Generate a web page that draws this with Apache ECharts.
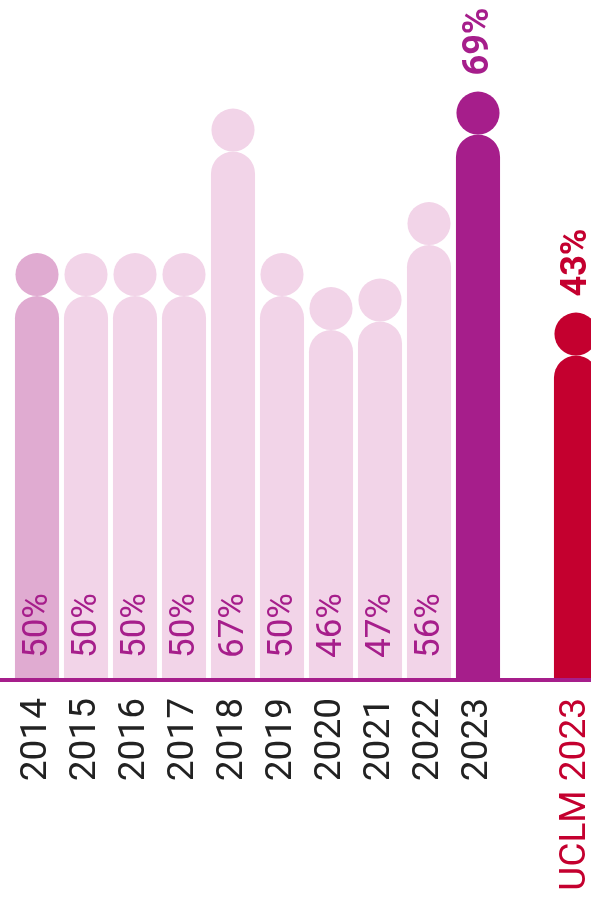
<!DOCTYPE html>
<html>
<head>
<meta charset="utf-8">
<script src="https://cdn.jsdelivr.net/npm/echarts@6/dist/echarts.min.js"></script>
<style>
  html, body { margin: 0; padding: 0; background: #fff; }
  #chart { width: 591px; height: 899px; }
</style>
</head>
<body>
<div id="chart"></div>
<script>
'use strict';

// categories (slot 10 is an empty gap before the UCLM bar)
var years = ['2014', '2015', '2016', '2017', '2018', '2019', '2020', '2021', '2022', '2023', '', 'UCLM 2023'];
// percentages
var values = [50, 50, 50, 50, 67, 50, 46, 47, 56, 69, null, 43];
var labels = ['50%', '50%', '50%', '50%', '67%', '50%', '46%', '47%', '56%', '69%', '', '43%'];

var PURPLE = '#a61e8b';
var RED = '#c4002f';
var LIGHT = '#f2d4e8';
var MID = '#e0abd1';
var FONT = 'Roboto, "Noto Sans", sans-serif';

function colorFor(i) {
    if (i === 0) return MID;
    if (i === 9) return PURPLE;
    if (i === 11) return RED;
    return LIGHT;
}

var seriesData = [];
values.forEach(function(v, i) {
    if (v != null) seriesData.push([i, v]);
});

function renderItem(params, api) {
    var idx = api.value(0);
    var val = api.value(1);
    var top = api.coord([idx, val]);
    var base = api.coord([idx, 0]);
    var w = api.size([1, 0])[0] * 0.9;
    var r = w / 2;
    var headR = r - 0.5;
    var cx = top[0];
    var color = colorFor(idx);
    var bodyTop = top[1] + headR * 2;
    var children = [{
        type: 'rect',
        shape: { x: cx - w / 2, y: bodyTop, width: w, height: base[1] - bodyTop, r: [r, r, 0, 0] },
        style: { fill: color }
    }, {
        type: 'circle',
        shape: { cx: cx, cy: top[1] + headR, r: headR },
        style: { fill: color }
    }];
    var strong = idx === 9 || idx === 11;
    if (strong) {
        children.push({
            type: 'text',
            x: cx + 1,
            y: top[1] - 16,
            rotation: Math.PI / 2,
            style: {
                text: labels[idx], fill: color, fontSize: 36, fontWeight: 'bold',
                fontFamily: FONT, align: 'left', verticalAlign: 'middle'
            }
        });
    } else {
        children.push({
            type: 'text',
            x: cx + 1,
            y: base[1] - 20,
            rotation: Math.PI / 2,
            style: {
                text: labels[idx], fill: PURPLE, fontSize: 35,
                fontFamily: FONT, align: 'left', verticalAlign: 'middle'
            }
        });
    }
    return { type: 'group', children: children };
}

var option = {
    animation: false,
    backgroundColor: '#fff',
    grid: {
        left: 12.5, width: 588, top: -2, bottom: 221,
        containLabel: false, outerBoundsMode: 'none'
    },
    xAxis: {
        type: 'category',
        data: years.map(function(y, i) {
            return i === 11 ? { value: y, textStyle: { color: RED } } : y;
        }),
        axisLine: { show: false },
        axisTick: { show: false },
        axisLabel: {
            rotate: 90, interval: 0, margin: 20,
            fontSize: 37, color: '#222', fontFamily: FONT
        }
    },
    yAxis: { type: 'value', min: 0, max: 80, show: false },
    series: [{
        type: 'custom',
        renderItem: renderItem,
        encode: { x: 0, y: 1 },
        data: seriesData,
        clip: false
    }]
};

var chart = echarts.init(document.getElementById('chart'));
chart.setOption(option);

var baseY = chart.convertToPixel({ yAxisIndex: 0 }, 0);
chart.setOption({
    graphic: [{
        type: 'line',
        shape: { x1: 0, y1: baseY + 2, x2: 591, y2: baseY + 2 },
        style: { stroke: PURPLE, lineWidth: 4 },
        z: 10
    }]
});
</script>
</body>
</html>
